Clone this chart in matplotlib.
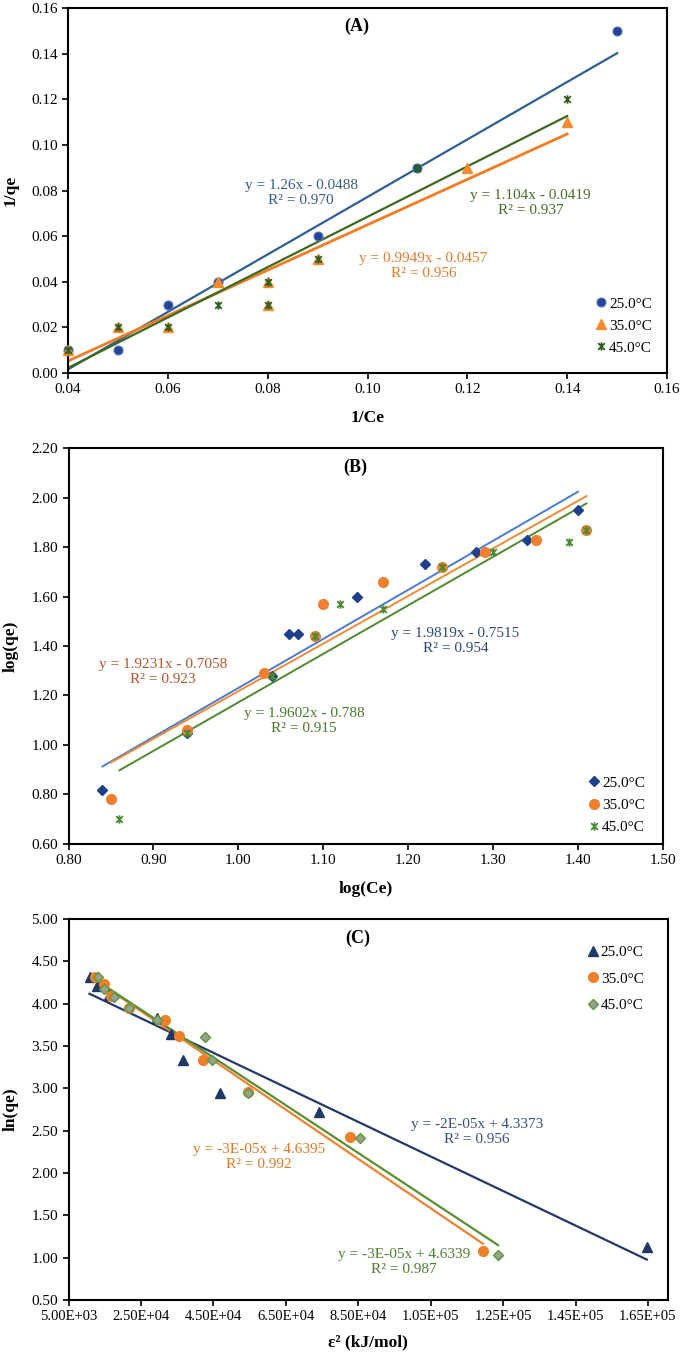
import matplotlib
matplotlib.use("Agg")
import matplotlib.pyplot as plt
from matplotlib.path import Path
from matplotlib.ticker import MultipleLocator, FixedLocator, FuncFormatter
import numpy as np

plt.rcParams['font.family'] = ['Liberation Serif', 'DejaVu Serif']

# ------------------------ #
# DATA
# ------------------------ #
labels = ["25.0°C", "35.0°C", "45.0°C"]

# (A) Langmuir: 1/Ce vs 1/qe
a_x25 = [0.04, 0.05, 0.06, 0.07, 0.09, 0.11, 0.15]
a_y25 = [0.01, 0.01, 0.03, 0.04, 0.06, 0.09, 0.15]
a_x35 = [0.04, 0.05, 0.06, 0.07, 0.08, 0.08, 0.09, 0.12, 0.14]
a_y35 = [0.01, 0.02, 0.02, 0.04, 0.04, 0.03, 0.05, 0.09, 0.11]
a_x45 = [0.04, 0.05, 0.06, 0.07, 0.08, 0.08, 0.09, 0.11, 0.14]
a_y45 = [0.01, 0.02, 0.02, 0.03, 0.04, 0.03, 0.05, 0.09, 0.12]
a_slope = [1.26, 0.9949, 1.104]
a_icpt = [-0.0488, -0.0345, -0.0419]
a_eqs = ["y = 1.26x - 0.0488\nR² = 0.970",
         "y = 0.9949x - 0.0457\nR² = 0.956",
         "y = 1.104x - 0.0419\nR² = 0.937"]

# (B) Freundlich: log(Ce) vs log(qe)
b_x25 = [0.84, 0.94, 1.04, 1.06, 1.07, 1.09, 1.14, 1.22, 1.24, 1.28, 1.34, 1.40]
b_y25 = [0.82, 1.05, 1.28, 1.45, 1.45, 1.44, 1.60, 1.73, 1.72, 1.78, 1.83, 1.95]
b_x35 = [0.85, 0.94, 1.03, 1.09, 1.10, 1.17, 1.24, 1.29, 1.35, 1.41]
b_y35 = [0.78, 1.06, 1.29, 1.44, 1.57, 1.66, 1.72, 1.78, 1.83, 1.87]
b_x45 = [0.86, 0.94, 1.04, 1.09, 1.12, 1.17, 1.24, 1.30, 1.39, 1.41]
b_y45 = [0.70, 1.05, 1.28, 1.44, 1.57, 1.55, 1.72, 1.78, 1.82, 1.87]
b_slope = [1.9819, 1.9231, 1.9602]
b_icpt = [-0.7515, -0.7058, -0.788]
b_eqs = ["y = 1.9819x - 0.7515\nR² = 0.954",
         "y = 1.9231x - 0.7058\nR² = 0.923",
         "y = 1.9602x - 0.788\nR² = 0.915"]

# (C) D-R: eps^2 vs ln(qe)
c_x25 = [10800, 12800, 16200, 29300, 33200, 36600, 46700, 74300, 164700]
c_y25 = [4.32, 4.21, 4.10, 3.83, 3.64, 3.34, 2.94, 2.72, 1.13]
c_x35 = [12400, 14800, 16800, 21700, 31700, 35500, 42200, 54600, 82600, 119400]
c_y35 = [4.31, 4.23, 4.09, 3.95, 3.81, 3.62, 3.33, 2.96, 2.42, 1.08]
c_x45 = [13200, 14800, 17700, 21700, 29300, 42800, 44600, 54500, 85600, 123600]
c_y45 = [4.31, 4.17, 4.08, 3.95, 3.81, 3.61, 3.33, 2.95, 2.41, 1.03]
c_slope = [-2.04e-5, -2.91e-5, -2.82e-5]
c_icpt = [4.3373, 4.6395, 4.6339]
c_eqs = ["y = -2E-05x + 4.3373\nR² = 0.956",
         "y = -3E-05x + 4.6395\nR² = 0.992",
         "y = -3E-05x + 4.6339\nR² = 0.987"]
c_xticks = [5000, 25000, 45000, 65000, 85000, 105000, 125000, 145000, 165000]

# ------------------------ #
# PLOTTING
# ------------------------ #
star = Path([(-1, -1), (1, 1), (-1, 1), (1, -1), (0, -1.25), (0, 1.25)],
            [Path.MOVETO, Path.LINETO, Path.MOVETO, Path.LINETO, Path.MOVETO, Path.LINETO])

fig = plt.figure(figsize=(6.85, 13.58), dpi=100)
ax_a = fig.add_axes([0.0993, 0.7253, 0.8745, 0.2688])
ax_b = fig.add_axes([0.1000, 0.3785, 0.8677, 0.2916])
ax_c = fig.add_axes([0.1000, 0.0427, 0.8750, 0.2806])


def trend(ax, x, slope, icpt, color, lw=1.6):
    xs = np.array([min(x), max(x)])
    ax.plot(xs, slope * xs + icpt, color=color, lw=lw, zorder=2)


def style(ax, title, xlabel, ylabel):
    for sp in ax.spines.values():
        sp.set_linewidth(1.5)
    ax.tick_params(direction="out", length=4, width=1.2, labelsize=11)
    ax.text(0.482, 0.95, title, transform=ax.transAxes, ha="center", va="center",
            fontsize=13, fontweight="bold")
    ax.set_xlabel(xlabel, fontsize=12.5, fontweight="bold", labelpad=10)
    ax.set_ylabel(ylabel, fontsize=12.5, fontweight="bold", labelpad=9)
    ax.yaxis.set_major_formatter(FuncFormatter(lambda v, p: f"{v:.2f}"))


# ---- (A)
cols_a = ["#2E5F94", "#F47C20", "#3B6A20"]
trend(ax_a, a_x25, a_slope[0], a_icpt[0], cols_a[0])
trend(ax_a, a_x35, a_slope[1], a_icpt[1], cols_a[1], lw=2.0)
trend(ax_a, a_x45, a_slope[2], a_icpt[2], cols_a[2])
ax_a.plot(a_x25, a_y25, ls="none", marker="o", ms=6.5, mfc="#24449A", mec="#5C78B8",
          mew=0.8, label=labels[0], zorder=3, clip_on=False)
ax_a.plot(a_x35, a_y35, ls="none", marker="^", ms=7, color="#F68A2E", label=labels[1],
          zorder=4, clip_on=False)
ax_a.plot(a_x45, a_y45, ls="none", marker=star, ms=6, mec="#2D5F1E", mew=1.3,
          label=labels[2], zorder=5, clip_on=False)
ax_a.set_xlim(0.04, 0.16)
ax_a.set_ylim(0.0, 0.16)
ax_a.xaxis.set_major_locator(MultipleLocator(0.02))
ax_a.yaxis.set_major_locator(MultipleLocator(0.02))
ax_a.xaxis.set_major_formatter(FuncFormatter(lambda v, p: f"{v:.2f}"))
ax_a.text(0.0867, 0.0791, a_eqs[0], color="#3A5A8C", ha="center", va="center", fontsize=11)
ax_a.text(0.1112, 0.0469, a_eqs[1], color="#E87A2A", ha="center", va="center", fontsize=11)
ax_a.text(0.1327, 0.0745, a_eqs[2], color="#4A6E2A", ha="center", va="center", fontsize=11)
style(ax_a, "(A)", "1/Ce", "1/qe")
ax_a.legend(loc="lower right", bbox_to_anchor=(0.99, 0.025), frameon=False, fontsize=11,
            handlelength=0.7, handletextpad=0.15, labelspacing=0.55, borderpad=0.1)

# ---- (B)
cols_b = ["#4A7BD0", "#F28A33", "#4D8A2E"]
trend(ax_b, b_x25, b_slope[0], b_icpt[0], cols_b[0], lw=1.4)
trend(ax_b, b_x35, b_slope[1], b_icpt[1], cols_b[1], lw=1.4)
trend(ax_b, b_x45, b_slope[2], b_icpt[2], cols_b[2], lw=1.4)
ax_b.plot(b_x25, b_y25, ls="none", marker="D", ms=5, color="#1F3F8C", label=labels[0], zorder=3)
ax_b.plot(b_x35, b_y35, ls="none", marker="o", ms=7, color="#F08030", label=labels[1], zorder=4)
ax_b.plot(b_x45, b_y45, ls="none", marker=star, ms=6, mec="#4A8A30", mew=1.3,
          label=labels[2], zorder=5)
ax_b.set_xlim(0.80, 1.50)
ax_b.set_ylim(0.60, 2.20)
ax_b.xaxis.set_major_locator(MultipleLocator(0.10))
ax_b.yaxis.set_major_locator(MultipleLocator(0.20))
ax_b.xaxis.set_major_formatter(FuncFormatter(lambda v, p: f"{v:.2f}"))
ax_b.text(1.2557, 1.420, b_eqs[0], color="#2F4A7A", ha="center", va="center", fontsize=11)
ax_b.text(0.911, 1.296, b_eqs[1], color="#B0582A", ha="center", va="center", fontsize=11)
ax_b.text(1.0777, 1.097, b_eqs[2], color="#4A7A2A", ha="center", va="center", fontsize=11)
style(ax_b, "(B)", "log(Ce)", "log(qe)")
ax_b.legend(loc="lower right", bbox_to_anchor=(0.985, 0.002), frameon=False, fontsize=11,
            handlelength=0.7, handletextpad=0.15, labelspacing=0.55, borderpad=0.1)

# ---- (C)
cols_c = ["#22386A", "#F28030", "#5A8F30"]
trend(ax_c, c_x25, c_slope[0], c_icpt[0], cols_c[0])
trend(ax_c, c_x35, c_slope[1], c_icpt[1], cols_c[1])
trend(ax_c, c_x45, c_slope[2], c_icpt[2], cols_c[2])
ax_c.plot(c_x25, c_y25, ls="none", marker="^", ms=7, color="#1F3868", label=labels[0], zorder=3)
ax_c.plot(c_x35, c_y35, ls="none", marker="o", ms=7, color="#F07F2A", label=labels[1], zorder=4)
ax_c.plot(c_x45, c_y45, ls="none", marker="D", ms=5, mfc="#9AA090", mec="#5A9A3A", mew=1.0,
          label=labels[2], zorder=5)
ax_c.set_xlim(5000, 170500)
ax_c.set_ylim(0.50, 5.00)
ax_c.xaxis.set_major_locator(FixedLocator(c_xticks))
ax_c.yaxis.set_major_locator(MultipleLocator(0.50))
ax_c.xaxis.set_major_formatter(FuncFormatter(lambda v, p: f"{v:.2E}"))
ax_c.text(117700, 2.48, c_eqs[0], color="#3A4F80", ha="center", va="center", fontsize=11)
ax_c.text(57600, 2.19, c_eqs[1], color="#E07828", ha="center", va="center", fontsize=11)
ax_c.text(97700, 0.945, c_eqs[2], color="#4F7F2F", ha="center", va="center", fontsize=11)
style(ax_c, "(C)", "ε² (kJ/mol)", "ln(qe)")
ax_c.tick_params(axis="x", labelsize=10.5)
ax_c.xaxis.labelpad = 8
ax_c.legend(loc="upper right", bbox_to_anchor=(0.975, 0.955), frameon=False, fontsize=11,
            handlelength=0.7, handletextpad=0.15, labelspacing=0.85, borderpad=0.1)

fig.savefig("out.png", dpi=100)
